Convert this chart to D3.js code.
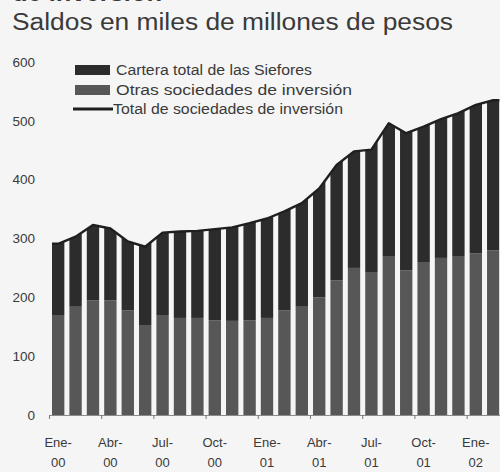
<!DOCTYPE html>
<html>
<head>
<meta charset="utf-8">
<script src="https://cdn.jsdelivr.net/npm/d3@7/dist/d3.min.js"></script>
<style>
  html, body { margin: 0; padding: 0; background: #f5f5f5; }
  svg { display: block; }
  text { font-family: "Liberation Sans", Arial, sans-serif; fill: #3a3a3a; }
</style>
</head>
<body>
<svg id="chart" width="500" height="472"></svg>
<script>
// Monthly balances, Jan 2000 – Feb 2002 (miles de millones de pesos)
const months = ["Ene-00","Feb-00","Mar-00","Abr-00","May-00","Jun-00","Jul-00","Ago-00","Sep-00","Oct-00","Nov-00","Dic-00",
                "Ene-01","Feb-01","Mar-01","Abr-01","May-01","Jun-01","Jul-01","Ago-01","Sep-01","Oct-01","Nov-01","Dic-01",
                "Ene-02","Feb-02"];
const otras    = [170,184,195,195,178,153,170,165,165,161,160,161,165,178,184,200,229,250,243,269,246,260,267,269,275,280];
const siefores = [121,119,128,122,117,133,140,147,148,155,159,165,169,168,176,185,196,198,208,227,233,230,236,244,252,255];
const total    = [291,303,323,317,295,286,310,312,313,316,319,326,334,346,360,385,425,448,451,496,479,490,503,513,527,535];
const yTicks   = [0,100,200,300,400,500,600];
const xLabelMonths = ["Ene-00","Abr-00","Jul-00","Oct-00","Ene-01","Abr-01","Jul-01","Oct-01","Ene-02"];
const seriesNames = ["Cartera total de las Siefores","Otras sociedades de inversión","Total de sociedades de inversión"];

const colors = { siefores: "#2c2c2c", otras: "#575757", line: "#1f1f1f" };

const svg = d3.select("#chart");

const x = d3.scaleBand().domain(months).range([52, 499.4]).paddingInner(0.29).paddingOuter(0).align(0);
const y = d3.scaleLinear().domain([0, 600]).range([415, 62]);

// Headings (the first line runs off the top edge)
svg.append("text").attr("x", 12).attr("y", 1).attr("font-size", 23).attr("font-weight", "bold")
  .attr("textLength", 150).attr("lengthAdjust", "spacingAndGlyphs").text("de inversión");
svg.append("text").attr("x", 12).attr("y", 30).attr("font-size", 23)
  .attr("textLength", 441).attr("lengthAdjust", "spacingAndGlyphs")
  .text("Saldos en miles de millones de pesos");

// Y labels (no axis line)
svg.append("g").selectAll("text").data(yTicks).join("text")
  .attr("x", 35).attr("y", d => y(d)).attr("dy", "0.35em")
  .attr("text-anchor", "end").attr("font-size", 13.5).text(d => d);

// Stack
const rows = months.map((m, i) => ({ month: m, otras: otras[i], siefores: siefores[i] }));
const stack = d3.stack().keys(["otras", "siefores"])(rows);

// Area under the total line — bars are clipped to it so their tops follow the line
const pts = months.map((m, i) => [x(m) + x.bandwidth() / 2, total[i]]);
const edged = [[x(months[0]), total[0]], ...pts, [x(months[months.length - 1]) + x.bandwidth(), total[total.length - 1]]];
const area = d3.area().x(d => d[0]).y0(y(0)).y1(d => y(d[1]));
svg.append("clipPath").attr("id", "under-total").append("path").attr("d", area(edged));

// Top segments get a little extra height so the clip, not the rect, sets their outline
const bars = svg.append("g").attr("clip-path", "url(#under-total)");
bars.selectAll("g").data(stack).join("g")
  .attr("fill", d => colors[d.key])
  .each(function (s) {
    const extra = s.key === "siefores" ? 20 : 0;
    d3.select(this).selectAll("rect").data(s).join("rect")
      .attr("x", d => x(d.data.month))
      .attr("width", x.bandwidth())
      .attr("y", d => y(d[1]) - extra)
      .attr("height", d => y(d[0]) - y(d[1]) + extra);
  });

// Total line
svg.append("path").datum(edged)
  .attr("fill", "none").attr("stroke", colors.line).attr("stroke-width", 2.4).attr("stroke-linejoin", "round")
  .attr("d", d3.line().x(d => d[0]).y(d => y(d[1])));

// Baseline and quarter ticks
const half = x.step() * x.paddingInner() / 2;
svg.append("line").attr("x1", 50).attr("x2", 500).attr("y1", y(0) + 0.5).attr("y2", y(0) + 0.5)
  .attr("stroke", "#8a8a8a").attr("stroke-width", 1);
svg.append("g").selectAll("line").data(xLabelMonths).join("line")
  .attr("x1", d => x(d) - half).attr("x2", d => x(d) - half)
  .attr("y1", y(0)).attr("y2", y(0) + 4).attr("stroke", "#777").attr("stroke-width", 1);

// Two-line month labels
const lab = svg.append("g").selectAll("text").data(xLabelMonths).join("text")
  .attr("text-anchor", "middle").attr("font-size", 13)
  .attr("x", d => x(d) + x.bandwidth() / 2);
lab.append("tspan").attr("x", d => x(d) + x.bandwidth() / 2).attr("y", 447).text(d => d.split("-")[0] + "-");
lab.append("tspan").attr("x", d => x(d) + x.bandwidth() / 2).attr("y", 467).text(d => d.split("-")[1]);

// Legend
const legend = svg.append("g");
const lenText = [196, 236, 230];
const legendRows = [
  { name: seriesNames[0], type: "rect", color: colors.siefores, y: 70 },
  { name: seriesNames[1], type: "rect", color: colors.otras, y: 90 },
  { name: seriesNames[2], type: "line", color: colors.line, y: 109 }
];
legendRows.forEach((r, i) => {
  if (r.type === "rect") {
    legend.append("rect").attr("x", 75).attr("y", r.y - 5).attr("width", 35).attr("height", 10).attr("fill", r.color);
  } else {
    legend.append("line").attr("x1", 73).attr("x2", 113).attr("y1", r.y).attr("y2", r.y)
      .attr("stroke", r.color).attr("stroke-width", 3);
  }
  legend.append("text").attr("x", i === 2 ? 113 : 116).attr("y", r.y).attr("dy", "0.35em")
    .attr("font-size", 14).attr("textLength", lenText[i]).attr("lengthAdjust", "spacingAndGlyphs").text(r.name);
});
</script>
</body>
</html>
